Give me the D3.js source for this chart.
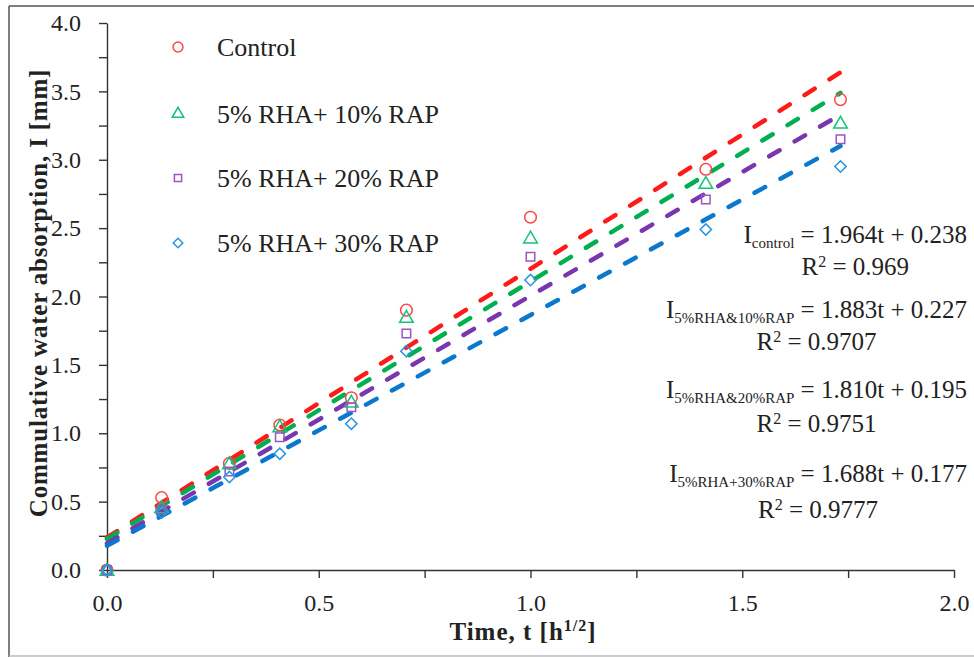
<!DOCTYPE html>
<html>
<head>
<meta charset="utf-8">
<script src="https://cdn.jsdelivr.net/npm/d3@7"></script>
<style>
  body { margin: 0; background: #fff; }
  svg text { font-family: "Liberation Serif", "DejaVu Serif", serif; fill: #222; }
</style>
</head>
<body>
<script>
// time in h^1/2 (1, 5, 10, 20, 30 min, 1, 2, 3 h)
var times = [0, 0.129, 0.289, 0.408, 0.577, 0.707, 1.0, 1.414, 1.732];

var control = [0, 0.53, 0.78, 1.06, 1.26, 1.90, 2.58, 2.93, 3.44];
var rha10   = [-0.01, 0.45, 0.77, 1.04, 1.22, 1.84, 2.42, 2.82, 3.26];
var rha20   = [0, 0.44, 0.72, 0.97, 1.19, 1.73, 2.29, 2.71, 3.15];
var rha30   = [0, 0.42, 0.68, 0.85, 1.07, 1.60, 2.12, 2.49, 2.95];

var seriesNames = ["Control", "5% RHA+ 10% RAP", "5% RHA+ 20% RAP", "5% RHA+ 30% RAP"];
var subscripts = ["control", "5%RHA&10%RAP", "5%RHA&20%RAP", "5%RHA+30%RAP"];
var slopes = [1.964, 1.883, 1.810, 1.688];
var intercepts = [0.238, 0.227, 0.195, 0.177];
var r2 = ["0.969", "0.9707", "0.9751", "0.9777"];

var xTicks = [0, 0.25, 0.5, 0.75, 1.0, 1.25, 1.5, 1.75, 2.0];
var yTicks = [0, 0.25, 0.5, 0.75, 1.0, 1.25, 1.5, 1.75, 2.0, 2.25, 2.5, 2.75, 3.0, 3.25, 3.5, 3.75, 4.0];

var allSeries = [control, rha10, rha20, rha30];
var lineColors = ["#ff1a1a", "#00b050", "#7a35b0", "#0a78cc"];
var markColors = ["#ff4545", "#14c27a", "#9a55c4", "#2a95e0"];
var shapes = ["circle", "triangle", "square", "diamond"];

var serif = "'Liberation Serif', 'DejaVu Serif', serif";

var svg = d3.select("body").append("svg")
  .attr("width", 974)
  .attr("height", 657);

// frame round the figure
svg.append("line").attr("x1", 9).attr("y1", 6).attr("x2", 974).attr("y2", 6)
  .attr("stroke", "#555").attr("stroke-width", 1.5);
svg.append("line").attr("x1", 9).attr("y1", 6).attr("x2", 9).attr("y2", 657)
  .attr("stroke", "#555").attr("stroke-width", 1.5);
svg.append("line").attr("x1", 9).attr("y1", 656).attr("x2", 974).attr("y2", 656)
  .attr("stroke", "#bbb").attr("stroke-width", 1.5);

var x = d3.scaleLinear().domain([0, 2]).range([107, 954]);
var y = d3.scaleLinear().domain([0, 4]).range([570, 23]);

var fmt = d3.format(".1f");
function half(d) { return Math.abs(d * 2 - Math.round(d * 2)) < 1e-6; }

var yAxis = svg.append("g")
  .attr("transform", "translate(107,0)")
  .call(d3.axisLeft(y).tickValues(yTicks).tickSize(8).tickSizeOuter(0).tickPadding(18)
    .tickFormat(function(d) { return half(d) ? fmt(d) : ""; }));

var xAxis = svg.append("g")
  .attr("transform", "translate(0,570)")
  .call(d3.axisBottom(x).tickValues(xTicks).tickSize(8).tickSizeOuter(0).tickPadding(16)
    .tickFormat(function(d) { return half(d) ? fmt(d) : ""; }));

[yAxis, xAxis].forEach(function(g) {
  g.attr("font-family", serif);
  g.selectAll("path,line").attr("stroke", "#333").attr("stroke-width", 1.4);
  g.selectAll("text").attr("font-size", 24).attr("fill", "#222");
});

// axis titles
svg.append("text")
  .attr("transform", "translate(47,293) rotate(-90)")
  .attr("text-anchor", "middle")
  .attr("font-family", serif)
  .attr("font-size", 25)
  .attr("font-weight", "bold")
  .attr("letter-spacing", 0.8)
  .text("Commulative water absorption, I [mm]");

var xt = svg.append("text")
  .attr("x", 523)
  .attr("y", 640)
  .attr("text-anchor", "middle")
  .attr("font-family", serif)
  .attr("font-size", 25)
  .attr("font-weight", "bold")
  .attr("letter-spacing", 1);
xt.append("tspan").text("Time, t [h");
xt.append("tspan").attr("font-size", 16).attr("dy", -9).text("1/2");
xt.append("tspan").attr("dy", 9).text("]");

// fitted lines
var line = d3.line().x(function(d) { return x(d[0]); }).y(function(d) { return y(d[1]); });
slopes.forEach(function(s, i) {
  var tEnd = times[times.length - 1];
  svg.append("path")
    .datum([[0, intercepts[i]], [tEnd, s * tEnd + intercepts[i]]])
    .attr("d", line)
    .attr("fill", "none")
    .attr("stroke", lineColors[i])
    .attr("stroke-width", 4.5)
    .attr("stroke-linecap", "round")
    .attr("stroke-dasharray", "12 17.5");
});

function marker(sel, shape, k) {
  if (shape === "circle") {
    sel.append("circle").attr("r", 5.8 * k);
  } else if (shape === "triangle") {
    sel.append("path").attr("d", d3.symbol().type(d3.symbolTriangle).size(80 * k * k)());
  } else if (shape === "square") {
    sel.append("path").attr("d", d3.symbol().type(d3.symbolSquare).size(72 * k * k)());
  } else {
    sel.append("path").attr("transform", "rotate(45)")
      .attr("d", d3.symbol().type(d3.symbolSquare).size(64 * k * k)());
  }
}

// data points
allSeries.forEach(function(vals, i) {
  svg.append("g").selectAll("g")
    .data(vals)
    .enter().append("g")
    .attr("transform", function(d, j) { return "translate(" + x(times[j]) + "," + y(d) + ")"; })
    .attr("fill", "none")
    .attr("stroke", markColors[i])
    .attr("stroke-width", 1.5)
    .each(function() { marker(d3.select(this), shapes[i], 1); });
});

// legend
var legendY = [47, 114, 178, 243];
seriesNames.forEach(function(name, i) {
  var g = svg.append("g")
    .attr("fill", "none")
    .attr("stroke", markColors[i])
    .attr("stroke-width", 1.5)
    .attr("transform", "translate(178," + legendY[i] + ")");
  marker(g, shapes[i], 0.85);
  svg.append("text")
    .attr("x", 217)
    .attr("y", legendY[i] + 9)
    .attr("font-family", serif)
    .attr("font-size", 26)
    .text(name);
});

// equations
var eqY = [243, 318, 398, 482];
var r2Y = [275, 350, 432, 518];
slopes.forEach(function(s, i) {
  var t = svg.append("text")
    .attr("x", 967)
    .attr("y", eqY[i])
    .attr("text-anchor", "end")
    .attr("font-family", serif)
    .attr("font-size", 25);
  t.append("tspan").text("I");
  t.append("tspan").attr("font-size", 15).attr("dy", 5).text(subscripts[i]);
  t.append("tspan").attr("dy", -5).text(" = " + s.toFixed(3) + "t + " + intercepts[i].toFixed(3));
  var bb = t.node().getBBox();
  var r = svg.append("text")
    .attr("x", bb.x + bb.width / 2)
    .attr("y", r2Y[i])
    .attr("text-anchor", "middle")
    .attr("font-family", serif)
    .attr("font-size", 25);
  r.append("tspan").text("R");
  r.append("tspan").attr("font-size", 16).attr("dy", -8).text("2");
  r.append("tspan").attr("dy", 8).text(" = " + r2[i]);
});
</script>
</body>
</html>
